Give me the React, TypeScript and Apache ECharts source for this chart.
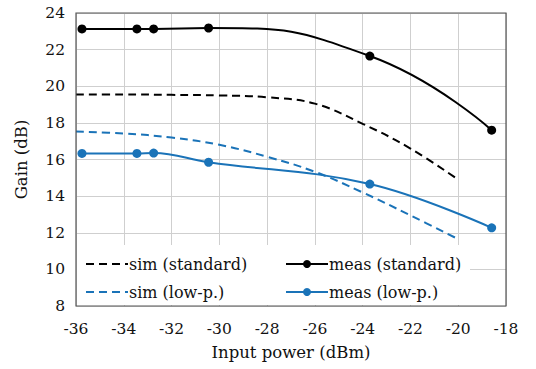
import React, { useEffect, useRef } from "react";
import * as echarts from "echarts";

const measX = [-35.75, -33.45, -32.75, -30.45, -23.7, -18.6];
const measStandard = [23.13, 23.13, 23.13, 23.18, 21.65, 17.6];
const measLowP = [16.33, 16.33, 16.35, 15.85, 14.66, 12.27];

const simX = [-36, -34, -32, -30, -28, -26, -24, -22, -20];
const simStandard = [19.55, 19.55, 19.53, 19.5, 19.4, 19.05, 17.95, 16.6, 14.9];
const simLowP = [17.53, 17.42, 17.2, 16.8, 16.15, 15.33, 14.2, 12.95, 11.65];

const xTicks = { min: -36, max: -18, step: 2 };
const yTicks = { min: 8, max: 24, step: 2 };

const BLUE = "#1a73b8";
const FONT = "DejaVu Serif";

const pairs = (xs: number[], ys: number[]) => xs.map((x, i) => [x, ys[i]]);

export default function App() {
  const ref = useRef<HTMLDivElement>(null);
  useEffect(() => {
    if (!ref.current) return;
    const chart = echarts.init(ref.current, undefined, { renderer: "svg" });
    const legendText = { fontFamily: FONT, fontSize: 16, color: "#111", padding: [0, 0, 0, -4] };
    chart.setOption({
      animation: false,
      backgroundColor: "#fff",
      grid: {
        left: 76,
        right: 30,
        top: 13,
        bottom: 63,
        show: true,
        borderColor: "#555",
        borderWidth: 1.2,
        z: 3,
      },
      xAxis: {
        type: "value",
        min: xTicks.min,
        max: xTicks.max,
        interval: xTicks.step,
        name: "Input power (dBm)",
        nameLocation: "middle",
        nameGap: 38,
        nameTextStyle: { fontFamily: FONT, fontSize: 16.5, color: "#111" },
        axisLine: { show: false },
        axisTick: { show: false },
        axisLabel: { margin: 15, fontFamily: FONT, fontSize: 15.5, color: "#111" },
        splitLine: { show: true, lineStyle: { color: "#cfcfcf", width: 1 } },
      },
      yAxis: {
        type: "value",
        min: yTicks.min,
        max: yTicks.max,
        interval: yTicks.step,
        name: "Gain (dB)",
        nameLocation: "middle",
        nameGap: 46,
        nameTextStyle: { fontFamily: FONT, fontSize: 16.5, color: "#111" },
        axisLine: { show: false },
        axisTick: { show: false },
        axisLabel: { margin: 11, fontFamily: FONT, fontSize: 15.5, color: "#111" },
        splitLine: { show: true, lineStyle: { color: "#cfcfcf", width: 1 } },
      },
      graphic: [
        {
          type: "rect",
          shape: { x: 77, y: 245, width: 393, height: 60 },
          style: { fill: "#fff" },
          z: 1,
        },
      ],
      legend: [
        {
          data: [
            { name: "sim (standard)", itemStyle: { opacity: 0 } },
            { name: "sim (low-p.)", itemStyle: { opacity: 0 } },
          ],
          orient: "vertical",
          left: 80,
          top: 251,
          itemWidth: 42,
          itemHeight: 10,
          itemGap: 12,
          textStyle: legendText,
          z: 5,
        },
        {
          data: ["meas (standard)", "meas (low-p.)"],
          orient: "vertical",
          left: 280,
          top: 251,
          itemWidth: 42,
          itemHeight: 10,
          itemGap: 12,
          textStyle: legendText,
          z: 5,
        },
      ],
      series: [
        {
          name: "sim (standard)",
          type: "line",
          data: pairs(simX, simStandard),
          smooth: 0.4,
          symbol: "none",
          lineStyle: { color: "#000", width: 2, type: [8, 5] },
          itemStyle: { color: "#000" },
          z: 2,
        },
        {
          name: "meas (standard)",
          type: "line",
          data: pairs(measX, measStandard),
          smooth: 0.5,
          symbol: "circle",
          symbolSize: 9,
          lineStyle: { color: "#000", width: 2 },
          itemStyle: { color: "#000" },
          z: 2,
        },
        {
          name: "sim (low-p.)",
          type: "line",
          data: pairs(simX, simLowP),
          smooth: 0.4,
          symbol: "none",
          lineStyle: { color: BLUE, width: 2, type: [8, 5] },
          itemStyle: { color: BLUE },
          z: 2,
        },
        {
          name: "meas (low-p.)",
          type: "line",
          data: pairs(measX, measLowP),
          smooth: 0.4,
          symbol: "circle",
          symbolSize: 9,
          lineStyle: { color: BLUE, width: 2 },
          itemStyle: { color: BLUE },
          z: 2,
        },
      ],
    });
    return () => chart.dispose();
  }, []);
  return (
    <div
      ref={ref}
      style={{ position: "absolute", left: 0, top: 0, width: 536, height: 369 }}
    />
  );
}
